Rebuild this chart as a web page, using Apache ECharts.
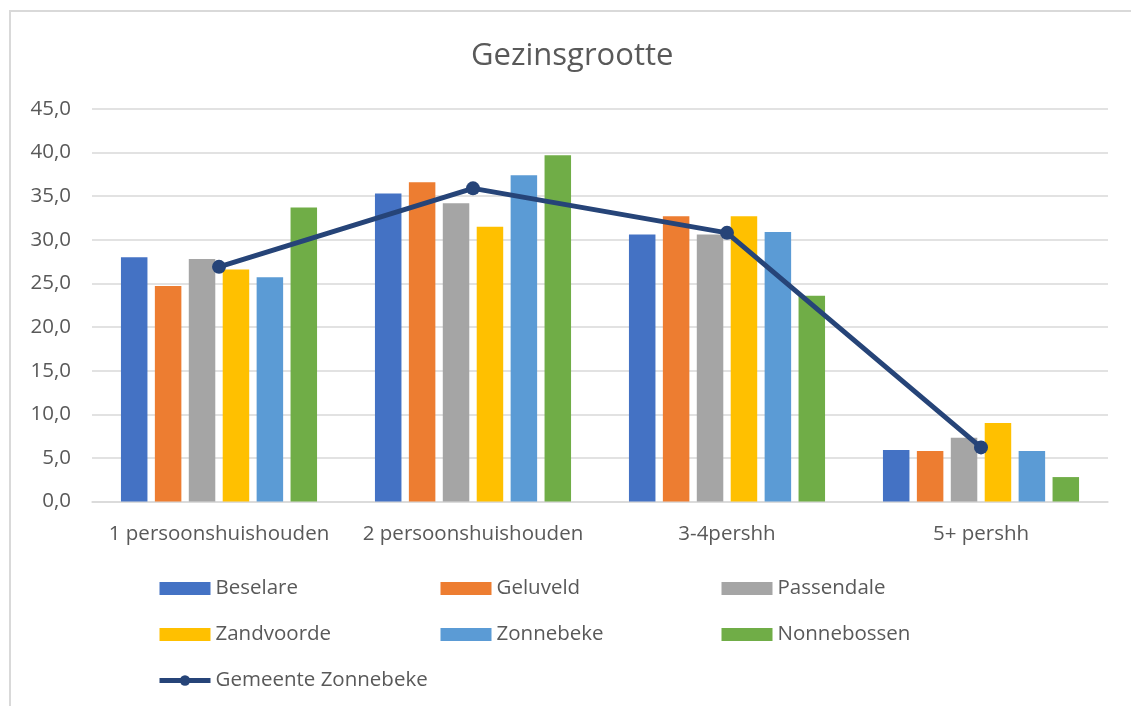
<!DOCTYPE html>
<html>
<head>
<meta charset="utf-8">
<title>Gezinsgrootte</title>
<script src="https://cdn.jsdelivr.net/npm/echarts@6/dist/echarts.min.js"></script>
<style>
  html, body { margin: 0; padding: 0; background: #fff; }
  #frame {
    position: absolute; left: 9px; top: 10px; right: 0; bottom: 0;
    border-left: 2px solid #D9D9D9; border-top: 2px solid #D9D9D9;
  }
  #chart { position: absolute; left: 0; top: 0; width: 1131px; height: 706px; }
</style>
</head>
<body>
<div id="frame"></div>
<div id="chart"></div>
<script>
// data
const categories = ['1 persoonshuishouden', '2 persoonshuishouden', '3-4pershh', '5+ pershh']
const beselare    = [28.0, 35.3, 30.6, 5.9]
const geluveld    = [24.7, 36.6, 32.7, 5.8]
const passendale  = [27.8, 34.2, 30.6, 7.3]
const zandvoorde  = [26.6, 31.5, 32.7, 9.0]
const zonnebeke   = [25.7, 37.4, 30.9, 5.8]
const nonnebossen = [33.7, 39.7, 23.6, 2.8]
const gemeente    = [26.9, 35.9, 30.8, 6.2]
const yTicks = { min: 0, max: 45, step: 5 }

const font = "'Open Sans', 'Liberation Sans', sans-serif"
const grey = '#595959'
const lineColor = '#264478'

const barSeries = [
  ['Beselare', beselare, '#4472C4'],
  ['Geluveld', geluveld, '#ED7D31'],
  ['Passendale', passendale, '#A5A5A5'],
  ['Zandvoorde', zandvoorde, '#FFC000'],
  ['Zonnebeke', zonnebeke, '#5B9BD5'],
  ['Nonnebossen', nonnebossen, '#70AD47']
].map(([name, data, color]) => ({
  name,
  type: 'bar',
  data,
  barWidth: 26.5,
  barGap: '28%',
  itemStyle: { color },
  emphasis: { disabled: true }
}))

const chart = echarts.init(document.getElementById('chart'), null, { renderer: 'canvas' })

chart.setOption({
  animation: false,
  backgroundColor: 'transparent',
  title: {
    text: 'Gezinsgrootte',
    left: 466,
    top: 36,
    textStyle: { fontFamily: font, fontSize: 31, fontWeight: 'normal', color: grey }
  },
  legend: {
    left: 152,
    top: 573,
    width: 900,
    itemWidth: 51,
    itemHeight: 13,
    itemGap: 25,
    data: [
      { name: 'Beselare', icon: 'rect' },
      { name: 'Geluveld', icon: 'rect' },
      { name: 'Passendale', icon: 'rect' },
      { name: 'Zandvoorde', icon: 'rect' },
      { name: 'Zonnebeke', icon: 'rect' },
      { name: 'Nonnebossen', icon: 'rect' },
      { name: 'Gemeente Zonnebeke', lineStyle: { width: 5 } }
    ],
    textStyle: {
      fontFamily: font, fontSize: 20.5, color: grey,
      width: 200, lineHeight: 21, overflow: 'none'
    }
  },
  grid: { left: 92, right: 23, top: 109, bottom: 204.5 },
  xAxis: {
    type: 'category',
    data: categories,
    axisTick: { show: false },
    axisLine: { lineStyle: { color: '#D9D9D9', width: 1.5 } },
    axisLabel: { interval: 0, fontFamily: font, fontSize: 20.5, color: grey, margin: 22 }
  },
  yAxis: {
    type: 'value',
    min: yTicks.min,
    max: yTicks.max,
    interval: yTicks.step,
    axisLine: { show: false },
    axisTick: { show: false },
    splitLine: { lineStyle: { color: '#D9D9D9', width: 1.5 } },
    axisLabel: {
      fontFamily: font, fontSize: 20.5, color: grey, margin: 21,
      formatter: v => v.toFixed(1).replace('.', ',')
    }
  },
  series: [
    ...barSeries,
    {
      name: 'Gemeente Zonnebeke',
      type: 'line',
      data: gemeente,
      z: 5,
      symbol: 'circle',
      symbolSize: 14,
      itemStyle: { color: lineColor },
      lineStyle: { color: lineColor, width: 5 },
      emphasis: { disabled: true }
    }
  ]
})
</script>
</body>
</html>
